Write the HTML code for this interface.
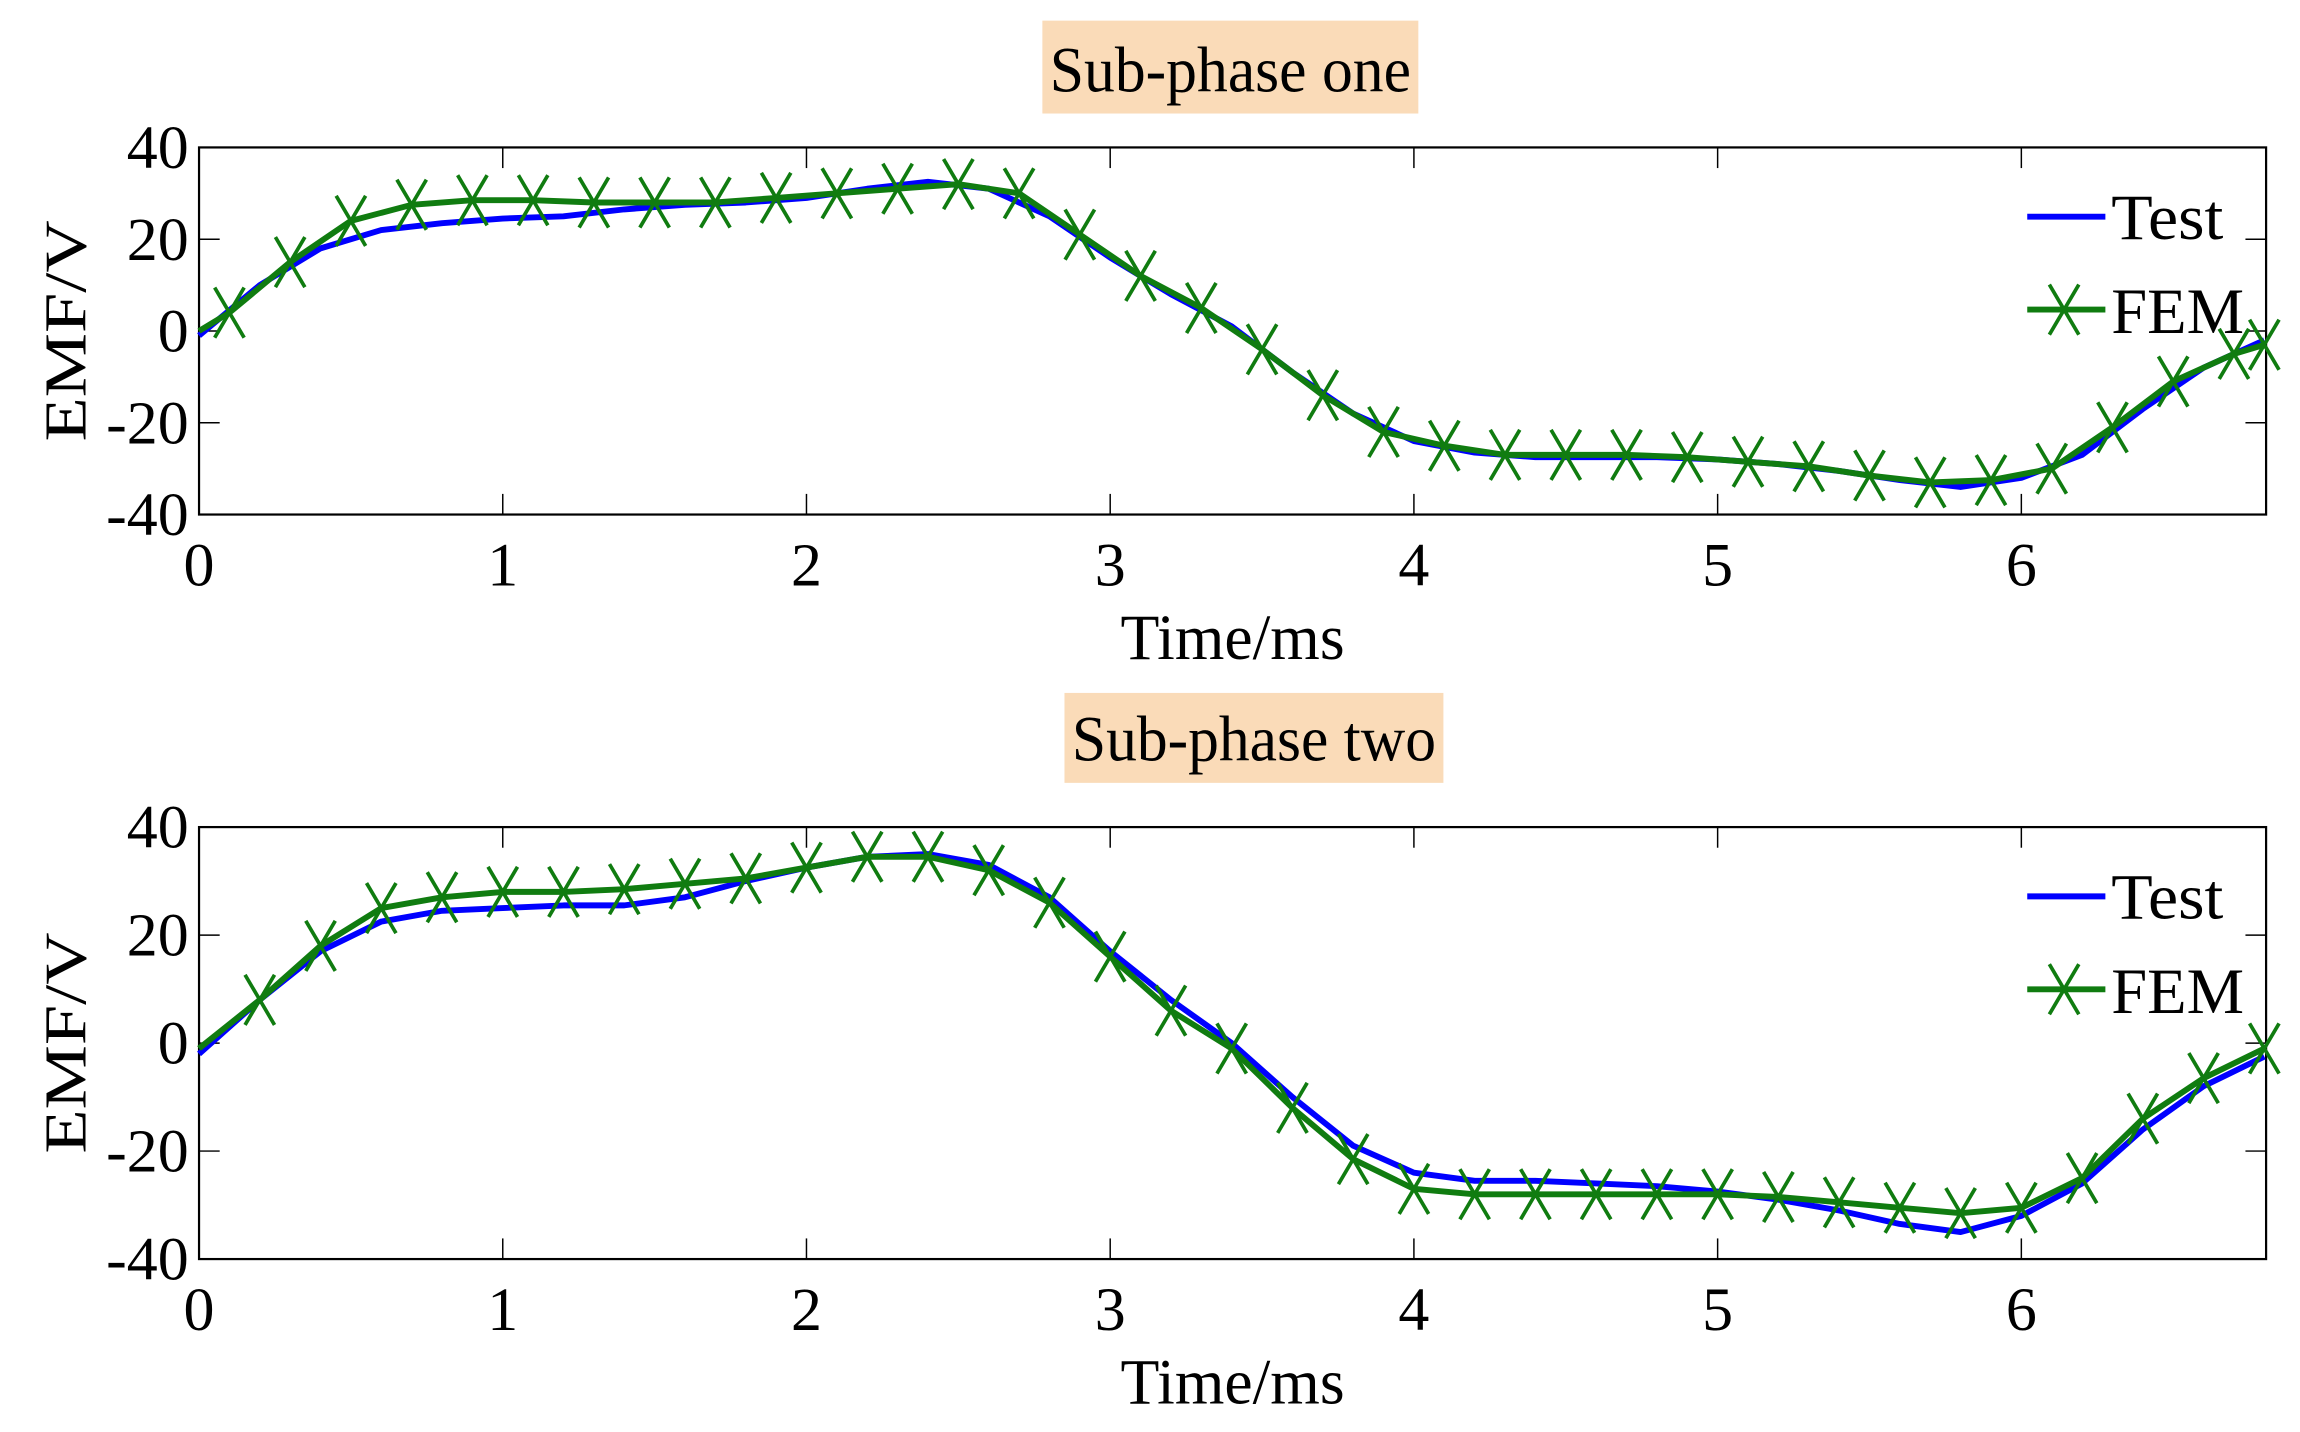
<!DOCTYPE html>
<html><head><meta charset="utf-8"><style>
html,body{margin:0;padding:0;background:#fff;}
svg{display:block;}
text{font-family:"Liberation Serif",serif;fill:#000;}
</style></head><body>
<svg id="chart" width="2300" height="1432" viewBox="0 0 1560 971.3" preserveAspectRatio="none" xmlns="http://www.w3.org/2000/svg"></svg>
<script>
const xTicks=[0,1,2,3,4,5,6];
const yTicks=[-40,-20,0,20,40];
const topFemT=[0,0.1,0.3,0.5,0.7,0.9,1.1,1.3,1.5,1.7,1.9,2.1,2.3,2.5,2.7,2.9,3.1,3.3,3.5,3.7,3.9,4.1,4.3,4.5,4.7,4.9,5.1,5.3,5.5,5.7,5.9,6.1,6.3,6.5,6.7,6.8];
const topFemV=[0,4,15,24,27.5,28.5,28.5,28,28,28,29,30,31,32,30,21,12,5,-4,-14,-22,-25,-27,-27,-27,-27.5,-28.5,-29.5,-31.5,-33,-32.5,-30,-21,-11,-5,-3];
const topTestT=[0,0.2,0.4,0.6,0.8,1,1.2,1.4,1.6,1.8,2,2.2,2.4,2.6,2.8,3,3.2,3.4,3.6,3.8,4,4.2,4.4,4.6,4.8,5,5.2,5.4,5.6,5.8,6,6.2,6.4,6.6,6.8];
const topTestV=[-1,10,18,22,23.5,24.5,25,26.5,27.5,28,29,31,32.5,31,25,16,8,1,-9,-18,-24,-26.5,-27.5,-27.5,-27.5,-28,-29,-30.5,-32.5,-34,-32,-27,-17,-8,-2];
const botFemT=[0,0.2,0.4,0.6,0.8,1,1.2,1.4,1.6,1.8,2,2.2,2.4,2.6,2.8,3,3.2,3.4,3.6,3.8,4,4.2,4.4,4.6,4.8,5,5.2,5.4,5.6,5.8,6,6.2,6.4,6.6,6.8];
const botFemV=[-1,8,18,25,27,28,28,28.5,29.5,30.5,32.5,34.5,34.5,32,26,16,6,-1,-12,-21.5,-27,-28,-28,-28,-28,-28,-28.5,-29.5,-30.5,-31.5,-30.5,-25,-14,-6.5,-1];
const botTestT=[0,0.2,0.4,0.6,0.8,1,1.2,1.4,1.6,1.8,2,2.2,2.4,2.6,2.8,3,3.2,3.4,3.6,3.8,4,4.2,4.4,4.6,4.8,5,5.2,5.4,5.6,5.8,6,6.2,6.4,6.6,6.8];
const botTestV=[-2,8,17,22.5,24.5,25,25.5,25.5,27,30,32.5,34.5,35,33,27,17,8,0,-10,-19,-24,-25.5,-25.5,-26,-26.5,-27.5,-29,-31,-33.5,-35,-32,-26,-16,-8,-2.5];

const NS="http://www.w3.org/2000/svg";
const svg=document.getElementById('chart');
function mk(tag,attrs,parent){const e=document.createElementNS(NS,tag);for(const k in attrs)e.setAttribute(k,attrs[k]);(parent||svg).appendChild(e);return e;}
const X0=135,X1=1537,XMAX=(1537-135)/206;
function sx(t){return X0+t*206;}

function panel(name,top,bot,title,box,femT,femV,testT,testV){
  const g=mk('g',{});
  
  
  const sy=v=>bot-(v+40)/80*(bot-top);
  const tb=mk('rect',{x:box[0],y:box[1],width:box[2],height:box[3],fill:'#fadbb8'},g);
  
  
  const tt=mk('text',{x:box[0]+box[2]/2,y:box[1]+box[3]-15,'text-anchor':'middle','font-size':44,textLength:box[2]-10,lengthAdjust:'spacingAndGlyphs'},g);
  tt.textContent=title;
  
  
  const ax=mk('rect',{x:X0,y:top,width:X1-X0,height:bot-top,fill:'none',stroke:'#000','stroke-width':1.5},g);
  
  
  xTicks.forEach(t=>{
    const x=sx(t);
    mk('line',{x1:x,y1:bot,x2:x,y2:bot-14,stroke:'#000','stroke-width':1},g);
    mk('line',{x1:x,y1:top,x2:x,y2:top+14,stroke:'#000','stroke-width':1},g);
    const l=mk('text',{x:x,y:bot+48,'text-anchor':'middle','font-size':42},g);
    l.textContent=t;
    
    
  });
  yTicks.forEach(v=>{
    const y=sy(v);
    mk('line',{x1:X0,y1:y,x2:X0+14,y2:y,stroke:'#000','stroke-width':1},g);
    mk('line',{x1:X1,y1:y,x2:X1-14,y2:y,stroke:'#000','stroke-width':1},g);
    const l=mk('text',{x:128,y:y+14,'text-anchor':'end','font-size':42},g);
    l.textContent=v;
    
    
  });
  const xl=mk('text',{x:836,y:bot+98,'text-anchor':'middle','font-size':44,textLength:152,lengthAdjust:'spacingAndGlyphs'},g);
  xl.textContent='Time/ms';
  
  
  const cy=(top+bot)/2;
  const yl=mk('text',{x:58,y:cy,'text-anchor':'middle','font-size':40,transform:`rotate(-90 58 ${cy})`,textLength:150,lengthAdjust:'spacingAndGlyphs'},g);
  yl.textContent='EMF/V';
  
  
  const tl=mk('polyline',{points:testT.map((t,i)=>sx(t)+','+sy(testV[i])).join(' '),fill:'none',stroke:'#0000ff','stroke-width':4,'stroke-linejoin':'round'},g);
  
  
  const fl=mk('polyline',{points:femT.map((t,i)=>sx(t)+','+sy(femV[i])).join(' '),fill:'none',stroke:'#107c10','stroke-width':4,'stroke-linejoin':'round'},g);
  
  
  femT.forEach((t,i)=>{
    if(t===0) return;
    const x=sx(t),y=sy(femV[i]);
    const m=mk('path',{d:`M${x-10},${y-17}L${x+10},${y+17}M${x-10},${y+17}L${x+10},${y-17}`,stroke:'#107c10','stroke-width':2.5,fill:'none'},g);
    
    
  });
  const ly=top+47;
  const lg=mk('g',{},g);
  
  
  mk('line',{x1:1375,y1:ly,x2:1428,y2:ly,stroke:'#0000ff','stroke-width':4},lg);
  const t1=mk('text',{x:1432,y:ly+15,'font-size':44,textLength:76,lengthAdjust:'spacingAndGlyphs'},lg);
  t1.textContent='Test';
  
  
  const ly2=ly+63;
  mk('line',{x1:1375,y1:ly2,x2:1428,y2:ly2,stroke:'#107c10','stroke-width':4},lg);
  mk('path',{d:`M1390,${ly2-17}L1410,${ly2+17}M1390,${ly2+17}L1410,${ly2-17}`,stroke:'#107c10','stroke-width':2.5},lg);
  const t2=mk('text',{x:1432,y:ly2+16,'font-size':44,textLength:90,lengthAdjust:'spacingAndGlyphs'},lg);
  t2.textContent='FEM';
  
  
}
panel('top-panel',100,349,'Sub-phase one',[707,14,255,63],topFemT,topFemV,topTestT,topTestV);
panel('bottom-panel',561,854,'Sub-phase two',[722,470,257,61],botFemT,botFemV,botTestT,botTestV);
</script>
</body></html>
